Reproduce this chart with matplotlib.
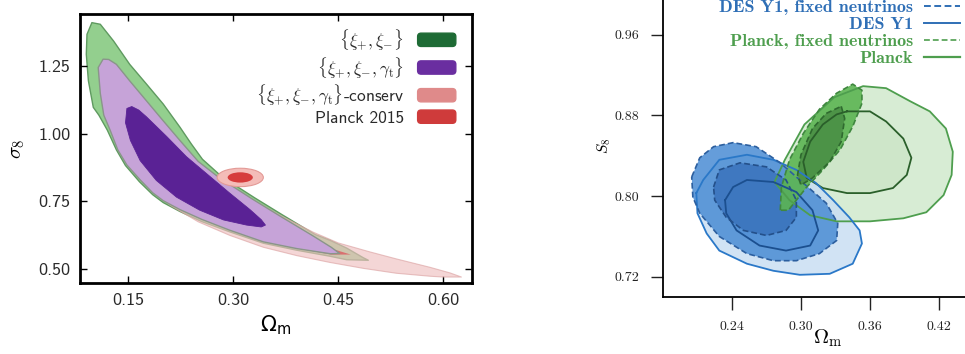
#!/usr/bin/env python3
"""Two-panel cosmology constraint figure: sigma_8 / S_8 vs Omega_m contours."""

import matplotlib

matplotlib.use("Agg")
import matplotlib.pyplot as plt
from matplotlib.font_manager import FontProperties
from matplotlib.lines import Line2D
from matplotlib.patches import Ellipse, FancyBboxPatch, Patch
from matplotlib.legend_handler import HandlerPatch

# ---------------------------------------------------------------- left panel
# contour outlines as (Omega_m, sigma_8) vertices
XI_PM_2SIG = [
    (0.098, 1.410), (0.110, 1.404), (0.129, 1.342), (0.152, 1.256), (0.176, 1.183),
    (0.200, 1.109), (0.224, 1.023), (0.240, 0.962), (0.256, 0.905), (0.284, 0.840),
    (0.331, 0.762), (0.370, 0.700), (0.417, 0.627), (0.438, 0.606), (0.462, 0.577),
    (0.486, 0.541), (0.493, 0.532), (0.462, 0.534), (0.438, 0.547), (0.391, 0.569),
    (0.343, 0.595), (0.295, 0.637), (0.255, 0.675), (0.224, 0.712), (0.200, 0.745),
    (0.185, 0.774), (0.166, 0.822), (0.146, 0.882), (0.133, 0.940), (0.120, 1.013),
    (0.108, 1.068), (0.100, 1.097), (0.093, 1.195), (0.090, 1.293), (0.091, 1.367),
]
XI_PM_1SIG = [
    (0.152, 1.070), (0.180, 1.010), (0.230, 0.900), (0.280, 0.800), (0.330, 0.710),
    (0.340, 0.680), (0.310, 0.680), (0.260, 0.720), (0.210, 0.790), (0.175, 0.870),
    (0.155, 0.960),
]
XI_PM_GT_2SIG = [
    (0.114, 1.275), (0.122, 1.274), (0.133, 1.256), (0.152, 1.195), (0.176, 1.121),
    (0.200, 1.047), (0.224, 0.974), (0.250, 0.897), (0.280, 0.837), (0.328, 0.757),
    (0.367, 0.695), (0.414, 0.622), (0.440, 0.580), (0.452, 0.557), (0.439, 0.556),
    (0.391, 0.575), (0.343, 0.600), (0.295, 0.643), (0.255, 0.683), (0.224, 0.719),
    (0.200, 0.752), (0.185, 0.781), (0.167, 0.829), (0.148, 0.884), (0.135, 0.940),
    (0.124, 1.013), (0.115, 1.068), (0.110, 1.149), (0.107, 1.244),
]
XI_PM_GT_1SIG = [
    (0.148, 1.093), (0.155, 1.100), (0.165, 1.087), (0.176, 1.062), (0.205, 0.989),
    (0.233, 0.915), (0.267, 0.841), (0.295, 0.780), (0.324, 0.719), (0.340, 0.682),
    (0.346, 0.662), (0.340, 0.655), (0.319, 0.662), (0.286, 0.681), (0.252, 0.717),
    (0.219, 0.765), (0.190, 0.827), (0.167, 0.900), (0.153, 0.975), (0.146, 1.040),
]
CONSERV_2SIG = [
    (0.136, 1.165), (0.150, 1.130), (0.176, 1.060), (0.200, 0.995), (0.230, 0.920),
    (0.260, 0.862), (0.290, 0.812), (0.330, 0.752), (0.370, 0.694), (0.414, 0.636),
    (0.450, 0.596), (0.495, 0.563), (0.533, 0.537), (0.581, 0.506), (0.610, 0.485),
    (0.626, 0.470), (0.600, 0.470), (0.581, 0.473), (0.533, 0.484), (0.486, 0.502),
    (0.438, 0.524), (0.391, 0.549), (0.343, 0.580), (0.295, 0.624), (0.250, 0.674),
    (0.210, 0.735), (0.180, 0.800), (0.160, 0.870), (0.145, 0.950), (0.135, 1.050),
    (0.132, 1.120),
]
CONSERV_1SIG = [
    (0.160, 1.000), (0.200, 0.920), (0.250, 0.830), (0.300, 0.750), (0.350, 0.680),
    (0.400, 0.618), (0.440, 0.575), (0.468, 0.553), (0.440, 0.553), (0.400, 0.572),
    (0.350, 0.600), (0.300, 0.645), (0.250, 0.700), (0.200, 0.780), (0.165, 0.880),
    (0.150, 0.980),
]
# Planck 2015: centre and full widths of the two ellipses
PLANCK15_CENTRE = (0.310, 0.838)
PLANCK15_2SIG_WH = (0.066, 0.068)
PLANCK15_1SIG_WH = (0.036, 0.038)

LEFT_LABELS = [
    r"$\{\xi_{+},\xi_{-}\}$",
    r"$\{\xi_{+},\xi_{-},\gamma_{\rm t}\}$",
    r"$\{\xi_{+},\xi_{-},\gamma_{\rm t}\}$-conserv",
    "Planck 2015",
]
LEFT_XTICKS = [0.15, 0.30, 0.45, 0.60]
LEFT_YTICKS = [0.50, 0.75, 1.00, 1.25]

# --------------------------------------------------------------- right panel
# (Omega_m, S_8) vertices
DES_2SIG = [
    (0.209, 0.803), (0.215, 0.816), (0.229, 0.836), (0.253, 0.841), (0.276, 0.836),
    (0.296, 0.826), (0.313, 0.813), (0.328, 0.796), (0.342, 0.779), (0.351, 0.766),
    (0.353, 0.753), (0.345, 0.733), (0.325, 0.723), (0.299, 0.722), (0.276, 0.726),
    (0.253, 0.733), (0.229, 0.746), (0.218, 0.763), (0.210, 0.783),
]
DES_1SIG = [
    (0.234, 0.796), (0.241, 0.809), (0.253, 0.816), (0.276, 0.814), (0.296, 0.804),
    (0.310, 0.786), (0.315, 0.766), (0.308, 0.751), (0.287, 0.746), (0.264, 0.751),
    (0.244, 0.766), (0.235, 0.783),
]
DES_FIXED_2SIG = [
    (0.205, 0.819), (0.212, 0.838), (0.224, 0.849), (0.241, 0.853), (0.261, 0.849),
    (0.282, 0.833), (0.299, 0.816), (0.322, 0.793), (0.332, 0.773), (0.331, 0.756),
    (0.316, 0.743), (0.296, 0.736), (0.276, 0.736), (0.253, 0.743), (0.229, 0.760),
    (0.212, 0.783), (0.206, 0.799),
]
DES_FIXED_1SIG = [
    (0.224, 0.809), (0.229, 0.826), (0.247, 0.833), (0.270, 0.829), (0.287, 0.816),
    (0.296, 0.796), (0.296, 0.779), (0.287, 0.766), (0.270, 0.761), (0.250, 0.766),
    (0.235, 0.779), (0.225, 0.796),
]
PLANCK_2SIG = [
    (0.277, 0.814), (0.286, 0.836), (0.303, 0.871), (0.329, 0.898), (0.354, 0.909),
    (0.374, 0.907), (0.395, 0.894), (0.412, 0.884), (0.426, 0.867), (0.432, 0.844),
    (0.431, 0.821), (0.424, 0.801), (0.409, 0.784), (0.389, 0.778), (0.360, 0.775),
    (0.331, 0.775), (0.308, 0.781), (0.290, 0.796),
]
PLANCK_1SIG = [
    (0.340, 0.884), (0.360, 0.884), (0.374, 0.874), (0.389, 0.857), (0.396, 0.838),
    (0.392, 0.821), (0.380, 0.808), (0.360, 0.803), (0.340, 0.803), (0.319, 0.808),
    (0.305, 0.818), (0.302, 0.834), (0.308, 0.854), (0.319, 0.871), (0.331, 0.881),
]
PLANCK_FIXED_2SIG = [
    (0.282, 0.786), (0.283, 0.809), (0.290, 0.836), (0.302, 0.862), (0.316, 0.886),
    (0.331, 0.902), (0.345, 0.911), (0.353, 0.905), (0.353, 0.892), (0.345, 0.869),
    (0.334, 0.846), (0.319, 0.826), (0.305, 0.809), (0.296, 0.796), (0.289, 0.786),
]
PLANCK_FIXED_1SIG = [
    (0.335, 0.889), (0.338, 0.877), (0.335, 0.854), (0.325, 0.834), (0.310, 0.818),
    (0.300, 0.811), (0.297, 0.821), (0.300, 0.841), (0.310, 0.867), (0.322, 0.882),
]

RIGHT_LABELS = ["DES Y1, fixed neutrinos", "DES Y1", "Planck, fixed neutrinos", "Planck"]
RIGHT_XTICKS = [0.24, 0.30, 0.36, 0.42]
RIGHT_YTICKS = [0.72, 0.80, 0.88, 0.96]


def _xy(pts):
    return [p[0] for p in pts], [p[1] for p in pts]


def _closed(pts):
    xs, ys = _xy(pts)
    return xs + xs[:1], ys + ys[:1]


def _rounded_box(legend, orig_handle, xdescent, ydescent, width, height, fontsize):
    return FancyBboxPatch((-xdescent, -ydescent), width, height,
                          boxstyle="round,pad=0,rounding_size=2.5")


def main():
    fig = plt.figure(figsize=(9.65, 3.54), dpi=100)
    fig.patch.set_facecolor("white")

    # ------------------------------------------------------------ left
    ax = fig.add_axes([0.0829, 0.2006, 0.4061, 0.7599])
    sans = "cmss10"
    kw = dict(joinstyle="round")

    ax.fill(*_xy(XI_PM_2SIG), facecolor="#93cf8e", edgecolor="#5f9a60", lw=1.0, zorder=1, **kw)
    ax.fill(*_xy(XI_PM_1SIG), facecolor="#1e6b35", edgecolor="none", zorder=1.1)
    ax.fill(*_xy(CONSERV_2SIG), facecolor="#efc0c0", alpha=0.65, edgecolor="#dca3a3",
            lw=0.8, zorder=2, **kw)
    ax.fill(*_xy(CONSERV_1SIG), facecolor="#d96f6f", edgecolor="none", zorder=2.1)
    ax.fill(*_xy(XI_PM_GT_2SIG), facecolor="#c6a3d8", edgecolor="#8a958a", lw=1.0, zorder=3, **kw)
    ax.fill(*_xy(XI_PM_GT_1SIG), facecolor="#5a2295", edgecolor="#5a2295", lw=0.6, zorder=3.1, **kw)
    ax.add_patch(Ellipse(PLANCK15_CENTRE, *PLANCK15_2SIG_WH, facecolor="#f4bcb8",
                         edgecolor="#e39a96", lw=0.8, zorder=4))
    ax.add_patch(Ellipse(PLANCK15_CENTRE, *PLANCK15_1SIG_WH, facecolor="#d63c3c",
                         edgecolor="none", zorder=4.1))

    ax.set_xlim(0.081, 0.641)
    ax.set_ylim(0.448, 1.442)
    ax.set_xticks(LEFT_XTICKS)
    ax.set_yticks(LEFT_YTICKS)
    ax.set_xticklabels([f"{v:.2f}" for v in LEFT_XTICKS], fontfamily=sans, fontsize=13)
    ax.set_yticklabels([f"{v:.2f}" for v in LEFT_YTICKS], fontfamily=sans, fontsize=13)
    ax.tick_params(direction="in", top=True, right=True, length=5, width=1.0, pad=7,
                   labelcolor="#2a2a2a")
    for sp in ax.spines.values():
        sp.set_linewidth(2.0)
    ax.set_xlabel(r"$\Omega_{\rm m}$", fontsize=15, math_fontfamily="dejavusans", labelpad=4)
    ax.set_ylabel(r"$\sigma_8$", fontsize=15, math_fontfamily="cm", labelpad=8)

    handles = [
        Patch(facecolor="#1e6b35", edgecolor="#1e6b35"),
        Patch(facecolor="#6a2ea0", edgecolor="#6a2ea0"),
        Patch(facecolor="#df8a8a", edgecolor="#df8a8a"),
        Patch(facecolor="#cf3b3b", edgecolor="#cf3b3b"),
    ]
    leg = ax.legend(handles, LEFT_LABELS, loc="upper right", bbox_to_anchor=(0.959, 0.952),
                    borderaxespad=0, borderpad=0, frameon=False, markerfirst=False,
                    handlelength=2.2, handleheight=0.8, handletextpad=0.8, labelspacing=0.16,
                    handler_map={Patch: HandlerPatch(patch_func=_rounded_box)},
                    prop=FontProperties(family=sans, size=12.5, math_fontfamily="cm"))
    for t in leg.get_texts():
        t.set_color("#2a2a2a")

    # ------------------------------------------------------------ right
    ax2 = fig.add_axes([0.6870, 0.1610, 0.3218, 0.8550])
    serif = "cmr10"
    c_des, c_des_dk = "#2f6fb6", "#1b4f8f"
    c_pl, c_pl_dk = "#4e9e4e", "#2a5f2a"

    ax2.fill(*_xy(PLANCK_2SIG), facecolor="#d3ead0", alpha=0.9, edgecolor="none", zorder=1)
    ax2.fill(*_xy(PLANCK_1SIG), facecolor="#c8e2c2", alpha=0.6, edgecolor="none", zorder=1.1)
    ax2.fill(*_xy(DES_2SIG), facecolor="#c9def3", alpha=0.85, edgecolor="none", zorder=2)
    ax2.fill(*_xy(DES_1SIG), facecolor="#7fb0e2", alpha=0.8, edgecolor="none", zorder=2.1)
    ax2.fill(*_xy(DES_FIXED_2SIG), facecolor="#4a8cd4", alpha=0.85, edgecolor="none", zorder=3)
    ax2.fill(*_xy(DES_FIXED_1SIG), facecolor="#3a73bc", alpha=0.85, edgecolor="none", zorder=3.1)
    ax2.fill(*_xy(PLANCK_FIXED_2SIG), facecolor="#5cb552", alpha=0.9, edgecolor="none", zorder=4)
    ax2.fill(*_xy(PLANCK_FIXED_1SIG), facecolor="#4a8f45", alpha=0.9, edgecolor="none", zorder=4.1)

    dash = (0, (3.5, 1.8))
    ax2.plot(*_closed(PLANCK_2SIG), color=c_pl, lw=1.3, zorder=6)
    ax2.plot(*_closed(PLANCK_1SIG), color=c_pl_dk, lw=1.3, zorder=6)
    ax2.plot(*_closed(DES_2SIG), color="#2a78c8", lw=1.3, zorder=6)
    ax2.plot(*_closed(DES_1SIG), color=c_des_dk, lw=1.3, zorder=6)
    ax2.plot(*_closed(DES_FIXED_2SIG), color="#2c5f9f", lw=1.2, ls=dash, zorder=6)
    ax2.plot(*_closed(DES_FIXED_1SIG), color="#24508a", lw=1.2, ls=dash, zorder=6)
    ax2.plot(*_closed(PLANCK_FIXED_2SIG), color="#3f873f", lw=1.2, ls=dash, zorder=6)
    ax2.plot(*_closed(PLANCK_FIXED_1SIG), color="#2f6a2f", lw=1.2, ls=dash, zorder=6)

    ax2.set_xlim(0.18, 0.45)
    ax2.set_ylim(0.70, 1.00)
    ax2.set_xticks(RIGHT_XTICKS)
    ax2.set_yticks(RIGHT_YTICKS)
    ax2.set_xticklabels([f"{v:.2f}" for v in RIGHT_XTICKS], fontfamily=serif, fontsize=10)
    ax2.set_yticklabels([f"{v:.2f}" for v in RIGHT_YTICKS], fontfamily=serif, fontsize=10)
    ax2.tick_params(direction="out", length=9, width=1.0, pad=8, colors="#222222")
    ax2.spines["top"].set_visible(False)
    ax2.spines["right"].set_visible(False)
    for s in ("left", "bottom"):
        ax2.spines[s].set_linewidth(1.3)
    ax2.set_xlabel(r"$\Omega_{\rm m}$", fontsize=15, math_fontfamily="cm", labelpad=2)
    ax2.xaxis.set_label_coords(0.53, -0.10)
    ax2.set_ylabel(r"$S_8$", fontsize=11, math_fontfamily="cm")
    ax2.yaxis.set_label_coords(-0.16, 0.50)

    rh = [
        Line2D([], [], color=c_des, lw=1.4, ls=dash),
        Line2D([], [], color=c_des, lw=1.4),
        Line2D([], [], color=c_pl, lw=1.2, ls=dash),
        Line2D([], [], color=c_pl, lw=1.6),
    ]
    leg2 = ax2.legend(rh, RIGHT_LABELS, loc="upper right", bbox_to_anchor=(0.995, 1.002),
                      bbox_transform=fig.transFigure, borderaxespad=0, borderpad=0,
                      frameon=False, markerfirst=False, handlelength=2.0, handletextpad=0.6,
                      labelspacing=0.08,
                      prop=FontProperties(family="cmb10", size=13))
    for t, c in zip(leg2.get_texts(), [c_des, c_des, c_pl, c_pl]):
        t.set_color(c)

    fig.savefig("out.png", dpi=100)
    plt.close(fig)


if __name__ == "__main__":
    main()
